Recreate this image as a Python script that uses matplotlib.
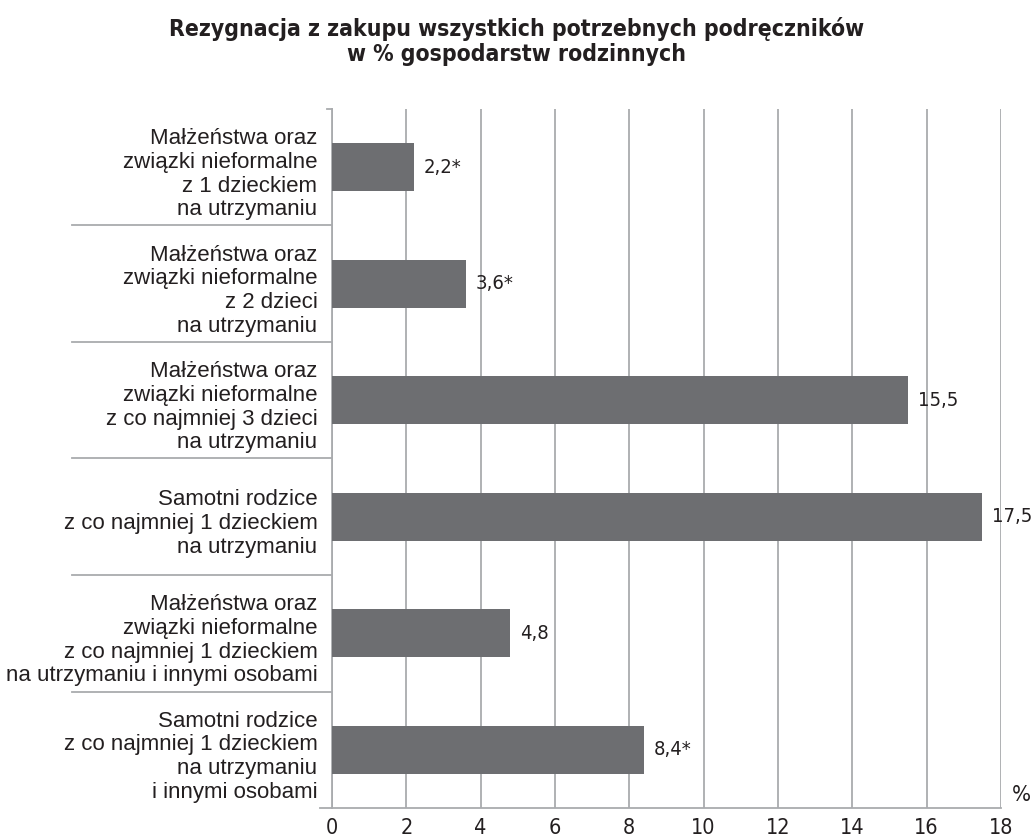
import matplotlib
matplotlib.use('Agg')
import matplotlib.pyplot as plt
import matplotlib.transforms as mtransforms
import numpy as np

categories = [
    'Małżeństwa oraz\nzwiązki nieformalne\nz 1 dzieckiem\nna utrzymaniu',
    'Małżeństwa oraz\nzwiązki nieformalne\nz 2 dzieci\nna utrzymaniu',
    'Małżeństwa oraz\nzwiązki nieformalne\nz co najmniej 3 dzieci\nna utrzymaniu',
    'Samotni rodzice\nz co najmniej 1 dzieckiem\nna utrzymaniu',
    'Małżeństwa oraz\nzwiązki nieformalne\nz co najmniej 1 dzieckiem\nna utrzymaniu i innymi osobami',
    'Samotni rodzice\nz co najmniej 1 dzieckiem\nna utrzymaniu\ni innymi osobami',
]
values = [2.2, 3.6, 15.5, 17.5, 4.8, 8.4]
flagged = [True, True, False, False, False, True]   # estimate marked with *
xticks = list(range(0, 19, 2))

title = ('Rezygnacja z zakupu wszystkich potrzebnych podręczników\n'
         'w % gospodarstw rodzinnych')

plt.rcParams['font.family'] = ['Liberation Sans', 'DejaVu Sans']

bar_color = '#6d6e71'
grid_color = '#a9abae'
txt_color = '#231f20'
narrow = dict(family='DejaVu Sans', fontstretch='condensed')

fig = plt.figure(figsize=(10.32, 8.38), dpi=100)
ax = fig.add_axes([332 / 1032, 1 - 808 / 838, 669 / 1032, 699 / 838])

y = np.arange(len(categories))
ax.barh(y, values, height=0.41, color=bar_color, zorder=3)

for yi, v, f in zip(y, values, flagged):
    lab = f'{v:.1f}'.replace('.', ',') + ('*' if f else '')
    ax.annotate(lab, (v, yi), xytext=(7, 0), textcoords='offset points',
                ha='left', va='center', fontsize=14.5, color=txt_color, **narrow)

ax.set_xlim(0, 18)
ax.set_ylim(len(categories) - 0.5, -0.5)
ax.set_xticks(xticks)
ax.set_xticklabels([str(t) for t in xticks], fontsize=15.5, color=txt_color, **narrow)
ax.tick_params(axis='x', length=0, pad=7)
ax.set_yticks([])
ax.xaxis.grid(True, color=grid_color, lw=1.3, zorder=0)
ax.set_axisbelow(True)

for s in ['top', 'right']:
    ax.spines[s].set_visible(False)
for s in ['left', 'bottom']:
    ax.spines[s].set_color(grid_color)
    ax.spines[s].set_linewidth(1.3)

# category labels, right-aligned left of the axis
for yi, c in zip(y, categories):
    ax.annotate(c, (0, yi), xytext=(-10.5, -5), textcoords='offset points',
                ha='right', va='center', fontsize=16, color=txt_color,
                linespacing=1.17)

# separator lines between categories
trans = mtransforms.blended_transform_factory(ax.transAxes, ax.transData)
for b in np.arange(0.5, len(categories) - 0.5, 1):
    ax.plot([-260 / 669, 0], [b, b], transform=trans, color=grid_color,
            lw=1.3, clip_on=False)
ax.plot([-5 / 669, 0], [-0.5, -0.5], transform=trans, color=grid_color, lw=1.3, clip_on=False)
ax.plot([-12 / 669, 0], [len(categories) - 0.5] * 2, transform=trans,
        color=grid_color, lw=1.3, clip_on=False)

ax.text(1.017, 0.005, '%', transform=ax.transAxes, ha='left', va='bottom',
        fontsize=16, color=txt_color, **narrow)

fig.text(0.5005, 0.98, title, ha='center', va='top', fontsize=16.5,
         fontweight='bold', color=txt_color, linespacing=1.15, **narrow)

fig.savefig('out.png', dpi=100)
